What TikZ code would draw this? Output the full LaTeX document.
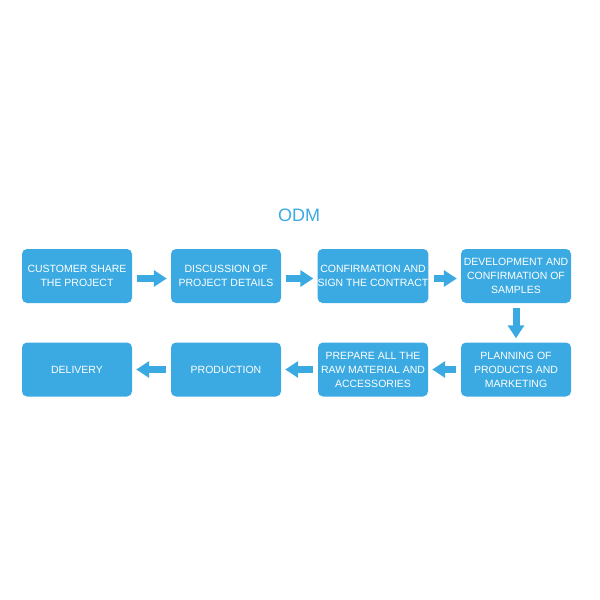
\documentclass[tikz,border=0pt]{standalone}
\usepackage{fontspec}
\setmainfont{Liberation Sans}
\usetikzlibrary{arrows.meta}
\definecolor{odmblue}{RGB}{59,170,226}
\begin{document}
\begin{tikzpicture}[x=1pt,y=-1pt,
    stepbox/.style={fill=odmblue,rounded corners=5pt,minimum width=110pt,minimum height=54pt,
        inner sep=0pt,align=center,text=white,font=\fontsize{10.5}{14}\selectfont},
    flow/.style={odmblue,line width=7pt,-{Triangle[length=13pt,width=16pt]},shorten <=5pt,shorten >=4pt}]
    \useasboundingbox (0,0) rectangle (600,600);

    % title
    \node[text=odmblue,font=\fontsize{18}{20}\selectfont] (title) at (299,215) {ODM};

    % first row
    \node[stepbox] (share) at (77,276) {CUSTOMER SHARE\\THE PROJECT};
    \node[stepbox] (discuss) at (226,276) {DISCUSSION OF\\PROJECT DETAILS};
    \node[stepbox] (contract) at (373,276) {CONFIRMATION AND\\SIGN THE CONTRACT};
    \node[stepbox] (samples) at (516,276) {DEVELOPMENT AND\\CONFIRMATION OF\\SAMPLES};

    % second row
    \node[stepbox] (planning) at (516,369.5) {PLANNING OF\\PRODUCTS AND\\MARKETING};
    \node[stepbox] (prepare) at (373,369.5) {PREPARE ALL THE\\RAW MATERIAL AND\\ACCESSORIES};
    \node[stepbox] (production) at (226,369.5) {PRODUCTION};
    \node[stepbox] (delivery) at (77,369.5) {DELIVERY};

    % arrows
    \draw[flow] ([yshift=-2.5pt]share.east) -- ([yshift=-2.5pt]discuss.west);
    \draw[flow] ([yshift=-2.5pt]discuss.east) -- ([yshift=-2.5pt]contract.west);
    \draw[flow] ([yshift=-2.5pt]contract.east) -- ([yshift=-2.5pt]samples.west);
    \draw[flow] (samples.south) -- (planning.north);
    \draw[flow] (planning.west) -- (prepare.east);
    \draw[flow] (prepare.west) -- (production.east);
    \draw[flow] (production.west) -- (delivery.east);
\end{tikzpicture}
\end{document}
